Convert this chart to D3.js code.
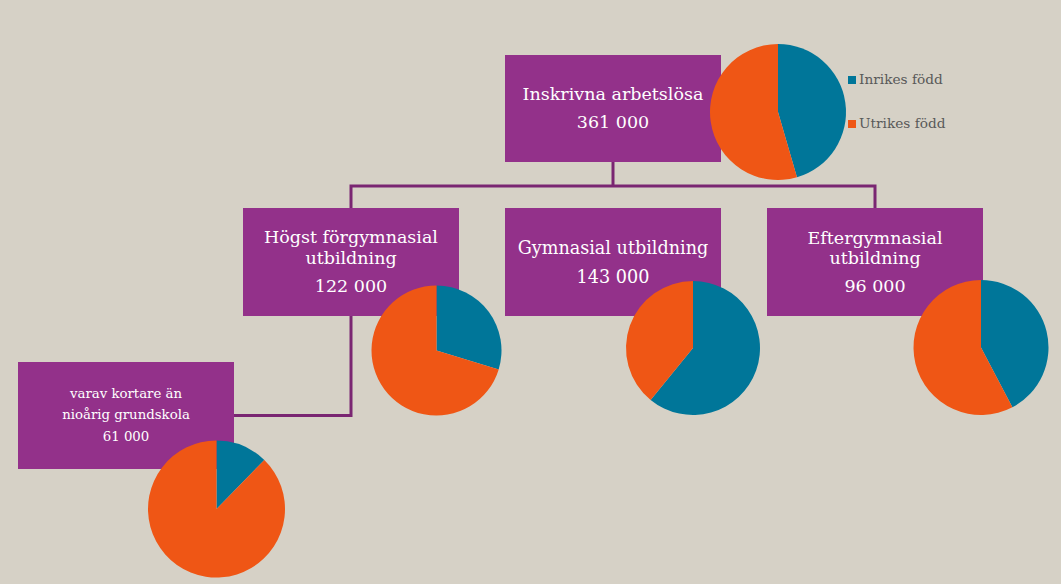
<!DOCTYPE html>
<html><head><meta charset="utf-8">
<script src="https://cdn.jsdelivr.net/npm/d3@7"></script>
<style>
html,body{margin:0;padding:0;background:#d6d1c6;}
svg{display:block;}
</style></head><body>
<svg id="c" width="1061" height="584"></svg>
<script>
// ---- data ----
const nodes = ["Inskrivna arbetslösa", "Högst förgymnasial utbildning", "Gymnasial utbildning", "Eftergymnasial utbildning", "varav kortare än nioårig grundskola"];
const totals = ["361 000", "122 000", "143 000", "96 000", "61 000"];
const seriesNames = ["Inrikes född", "Utrikes född"];
const inrikesShare = [45.5, 29.7, 60.9, 42.3, 12.3];
const utrikesShare = [54.5, 70.3, 39.1, 57.7, 87.7];

// ---- layout ----
const colors = ["#007699", "#ef5615"];
const purple = "#93318a", lineCol = "#7a2672";
const boxes = [
  {x:505, y:55, w:216, h:107, lines:["Inskrivna arbetslösa"], ys:[100], ty:128, fs:17.5},
  {x:243, y:208, w:216, h:108, lines:["Högst förgymnasial","utbildning"], ys:[243,264], ty:292, fs:17.5},
  {x:505, y:208, w:216, h:108, lines:["Gymnasial utbildning"], ys:[254], ty:283, fs:17.6},
  {x:767, y:208, w:216, h:108, lines:["Eftergymnasial","utbildning"], ys:[244,264], ty:292, fs:17.5},
  {x:18, y:362, w:216, h:107, lines:["varav kortare än","nioårig grundskola"], ys:[398,419], ty:441, fs:13.3}
];
const pies = [
  {cx:778, cy:112, r:68},
  {cx:436.5, cy:350.5, r:65},
  {cx:693, cy:348, r:67},
  {cx:981, cy:347.5, r:67.5},
  {cx:216.5, cy:509, r:68.5}
];

const svg = d3.select("#c");
svg.append("rect").attr("width",1061).attr("height",584).attr("fill","#d6d1c6");

// connectors
const g = svg.append("g").attr("fill","none").attr("stroke",lineCol).attr("stroke-width",3);
const cTop = boxes[0].x + boxes[0].w/2;
const cs = [1,2,3].map(i => boxes[i].x + boxes[i].w/2);
g.append("line").attr("x1",cTop).attr("x2",cTop).attr("y1",boxes[0].y+boxes[0].h).attr("y2",186);
g.append("path").attr("d",`M${cs[0]},${boxes[1].y}V186H${cs[2]}V${boxes[3].y}`);
g.append("path").attr("d",`M${cs[0]},${boxes[1].y+boxes[1].h}V415.5H${boxes[4].x+boxes[4].w}`);

// boxes
boxes.forEach((b,i) => {
  const bg = svg.append("g");
  bg.append("rect").attr("x",b.x).attr("y",b.y).attr("width",b.w).attr("height",b.h).attr("fill",purple);
  const cx = b.x + b.w/2;
  b.lines.forEach((t,j) => {
    bg.append("text").attr("x",cx).attr("y",b.ys[j]).attr("text-anchor","middle")
      .attr("font-family","DejaVu Serif").attr("font-size",b.fs).attr("fill","#fff").text(t);
  });
  bg.append("text").attr("x",cx).attr("y",b.ty).attr("text-anchor","middle")
    .attr("font-family","DejaVu Serif").attr("font-size",b.fs).attr("fill","#fff").text(totals[i]);
});

// pies
const pie = d3.pie().sort(null).value(d => d);
pies.forEach((p,i) => {
  const arc = d3.arc().innerRadius(0).outerRadius(p.r);
  svg.append("g").attr("transform",`translate(${p.cx},${p.cy})`)
    .selectAll("path").data(pie([inrikesShare[i], utrikesShare[i]])).join("path")
    .attr("d",arc).attr("fill",(d,k)=>colors[k]);
});

// legend
const lg = svg.append("g");
seriesNames.forEach((s,k) => {
  const y = 76 + k*44;
  lg.append("rect").attr("x",848).attr("y",y).attr("width",8).attr("height",8).attr("fill",colors[k]);
  lg.append("text").attr("x",859).attr("y",y+8).attr("font-family","DejaVu Serif").attr("font-size",13.7)
    .attr("fill","#595959").text(s);
});
</script>
</body></html>
